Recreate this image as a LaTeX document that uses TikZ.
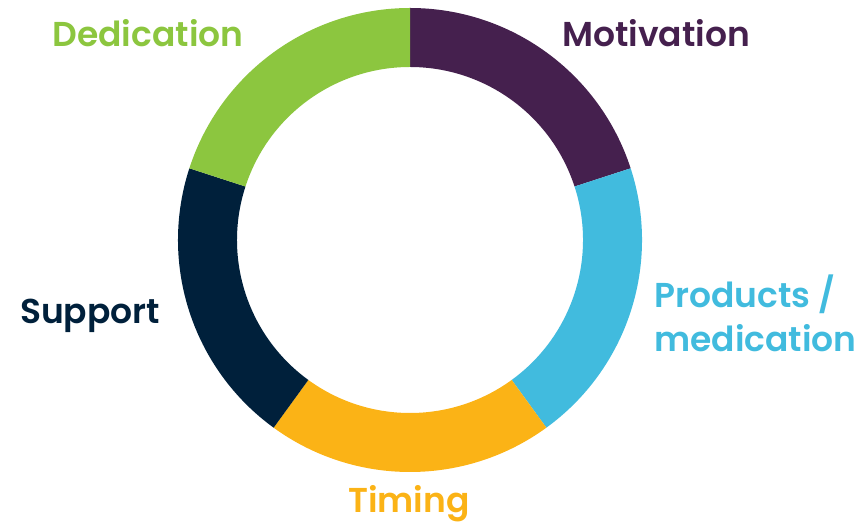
\documentclass[tikz,border=0pt]{standalone}
\usepackage{fontspec}
\setmainfont{Poppins}[UprightFont=* SemiBold, BoldFont=* Bold]
\definecolor{cpurple}{HTML}{45204E}
\definecolor{cblue}{HTML}{41BBDE}
\definecolor{cyellow}{HTML}{FBB316}
\definecolor{cnavy}{HTML}{00203B}
\definecolor{cgreen}{HTML}{8CC63F}
\begin{document}
\begin{tikzpicture}[x=1pt,y=1pt,
  lbl/.style={font=\fontsize{34.5}{44}\selectfont, inner sep=0pt}]
\useasboundingbox (0,0) rectangle (859,527);
\coordinate (c) at (410,287);
\def\Ro{232}\def\Ri{173}
\foreach \a/\b/\col in {90/18/cpurple, 18/-54/cblue, -54/-126/cyellow, -126/-198/cnavy, -198/-270/cgreen}{
  \fill[\col] ([shift={(\a:\Ro)}]c) arc[start angle=\a, end angle=\b, radius=\Ro]
     -- ([shift={(\b:\Ri)}]c) arc[start angle=\b, end angle=\a, radius=\Ri] -- cycle;
}
\node[lbl, text=cgreen] (ded) at (148,494) {Dedication};
\node[lbl, text=cpurple] (mot) at (656,494) {Motivation};
\node[lbl, text=cblue, anchor=west, align=left] (prod) at (654,214) {Products /\\medication};
\node[lbl, text=cnavy] (sup) at (90,211) {Support};
\node[lbl, text=cyellow] (tim) at (409,23) {Timing};
\end{tikzpicture}
\end{document}
